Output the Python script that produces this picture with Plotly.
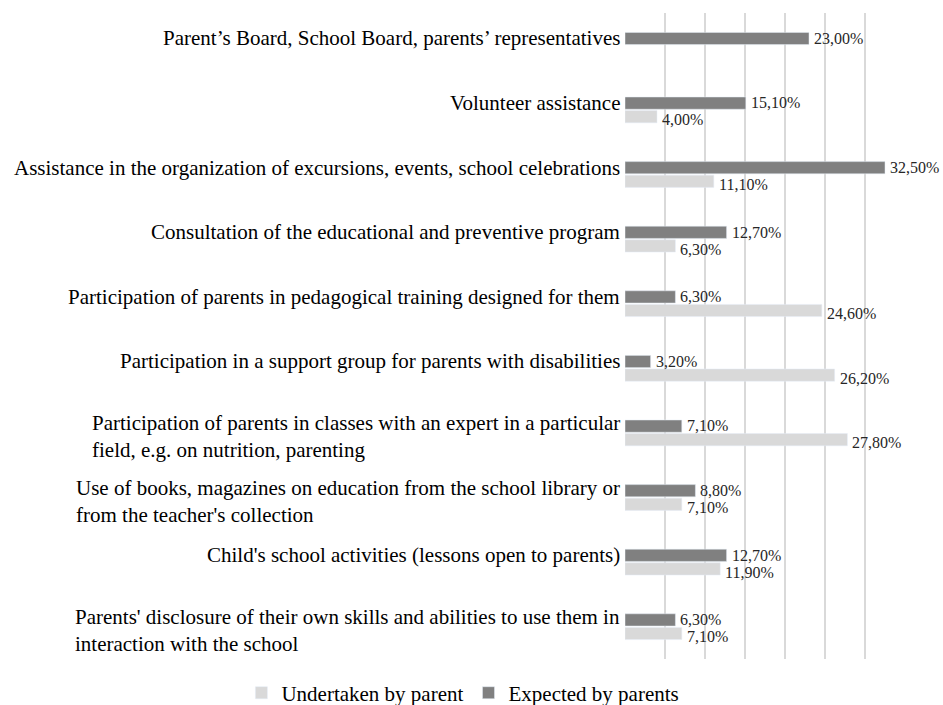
import plotly.graph_objects as go

categories = [
    "Parent\u2019s Board, School Board, parents\u2019 representatives",
    "Volunteer assistance",
    "Assistance in the organization of excursions, events, school celebrations",
    "Consultation of the educational and preventive program",
    "Participation of parents in pedagogical training designed for them",
    "Participation in a support group for parents with disabilities",
    "Participation of parents in classes with an expert in a particular<br>field, e.g. on nutrition, parenting",
    "Use of books, magazines on education from the school library or<br>from the teacher's collection",
    "Child's school activities (lessons open to parents)",
    "Parents' disclosure of their own skills and abilities to use them in<br>interaction with the school",
]
undertaken = [None, 4.00, 11.10, 6.30, 24.60, 26.20, 27.80, 7.10, 11.90, 7.10]
expected = [23.00, 15.10, 32.50, 12.70, 6.30, 3.20, 7.10, 8.80, 12.70, 6.30]
series_names = ["Undertaken by parent", "Expected by parents"]

FONT = "Liberation Serif, Times New Roman, serif"
LABEL_SIZE = 21
VALUE_SIZE = 16


def fmt(v):
    return f"{v:.2f}".replace(".", ",") + "%"


fig = go.Figure()
fig.add_trace(go.Bar(
    name=series_names[0], y=categories, x=undertaken, orientation="h",
    marker=dict(color="#d9d9d9"),
))
fig.add_trace(go.Bar(
    name=series_names[1], y=categories, x=expected, orientation="h",
    marker=dict(color="#808080"),
))

# category labels (left aligned inside their block, right edge at the axis)
for c in categories:
    two = "<br>" in c
    fig.add_annotation(
        x=0, xref="paper", y=c, yref="y", text=c, showarrow=False,
        xanchor="right", align="left", xshift=-3, yshift=(-4 if two else 7),
        font=dict(family=FONT, size=LABEL_SIZE, color="#000000"),
    )

# value labels next to the bar ends
for c, u, e in zip(categories, undertaken, expected):
    if e is not None:
        fig.add_annotation(
            x=e, y=c, xref="x", yref="y", text=fmt(e), showarrow=False,
            xanchor="left", yanchor="middle", xshift=3, yshift=7,
            font=dict(family=FONT, size=VALUE_SIZE, color="#262626"),
        )
    if u is not None:
        fig.add_annotation(
            x=u, y=c, xref="x", yref="y", text=fmt(u), showarrow=False,
            xanchor="left", yanchor="middle", xshift=3, yshift=-10,
            font=dict(family=FONT, size=VALUE_SIZE, color="#262626"),
        )

fig.update_layout(
    width=943, height=705,
    margin=dict(l=625, r=38, t=13, b=46, autoexpand=False),
    paper_bgcolor="white", plot_bgcolor="white",
    barmode="group", bargap=0.58, bargroupgap=0.1,
    font=dict(family=FONT, size=LABEL_SIZE, color="#000000"),
    showlegend=True,
    legend=dict(orientation="h", xref="paper", yref="paper",
                x=-1.37, xanchor="left", y=-0.021, yanchor="top",
                font=dict(family=FONT, size=LABEL_SIZE, color="#000000"),
                traceorder="normal", itemwidth=30, bgcolor="rgba(0,0,0,0)"),
    xaxis=dict(range=[0, 35], dtick=5, showgrid=True, gridcolor="#d9d9d9",
               gridwidth=1.5, showticklabels=False, zeroline=False,
               showline=False, ticks=""),
    yaxis=dict(categoryorder="array", categoryarray=list(reversed(categories)),
               showticklabels=False, showgrid=False, zeroline=False,
               showline=False, ticks=""),
)

fig.write_html("out.html")
